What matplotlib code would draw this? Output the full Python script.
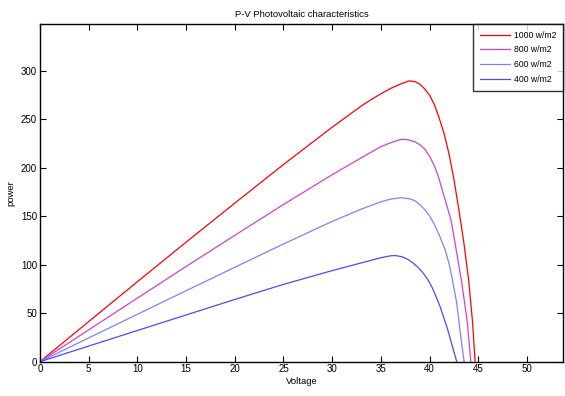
import matplotlib
matplotlib.use('Agg')
import matplotlib.pyplot as plt

plt.rcParams['font.family'] = ['Liberation Sans', 'DejaVu Sans']

# voltage / power
v_1000 = [0, 5, 10, 15, 20, 25, 30, 33, 34, 35, 36, 37, 37.9, 38.5, 39, 39.5, 40, 40.5, 41, 41.5, 42,
          42.5, 43, 43.5, 44, 44.4, 44.67]
p_1000 = [0, 41.3, 82.5, 123.3, 163.6, 203.5, 242, 264, 270.5, 276.5, 282, 286.5, 289.8, 289, 286.5,
          281.5, 275, 265, 251, 235, 214, 188, 157, 124, 85, 42, 0]

v_800 = [0, 5, 10, 15, 20, 25, 30, 33, 35, 36, 37, 37.5, 38, 38.5, 39, 39.5, 40, 40.5, 40.9, 41.6, 42.2,
         42.62, 43.31, 43.88, 44.23]
p_800 = [0, 32.8, 65.6, 98.2, 130.4, 162.2, 193, 210.5, 221.9, 226, 229.2, 229.5, 228.5, 226.8, 224,
         219.5, 212, 202, 191, 167, 146, 122, 81, 40, 0]

v_600 = [0, 5, 10, 15, 20, 25, 30, 33, 35, 36, 37.1, 38, 38.5, 39, 39.5, 40, 40.5, 41, 41.6, 42,
         42.28, 42.79, 43.2, 43.54]
p_600 = [0, 24.5, 48.9, 73.2, 97.4, 121.5, 144.8, 157.5, 165, 167.8, 169.3, 168, 166, 162, 157,
         150.5, 141.5, 130.5, 115.3, 101, 87.7, 60.3, 25.8, 0]

v_400 = [0, 5, 10, 15, 20, 25, 30, 33, 35, 36, 36.5, 37.15, 37.8, 38.34, 38.9, 39.36, 39.8, 40.22,
         40.65, 41.08, 41.4, 41.77, 42.1, 42.44, 42.79]
p_400 = [0, 16.1, 32.2, 48.2, 64.2, 79.8, 94, 102, 107.3, 109.3, 109.5, 108.4, 105.5, 101.5, 96.5,
         91.2, 85, 77.4, 67.5, 56.8, 47, 36.1, 24.5, 12.1, 0]

labels = ['1000 w/m2', '800 w/m2', '600 w/m2', '400 w/m2']
colors = ['#ff0000', '#cc44cc', '#8080ff', '#4a4aff']

fig = plt.figure(figsize=(5.65, 3.96), dpi=100)
ax = fig.add_axes([0.0706, 0.0866, 0.926, 0.8528])

ax.plot(v_1000, p_1000, color=colors[0], lw=0.9, label=labels[0])
ax.plot(v_800, p_800, color=colors[1], lw=0.9, label=labels[1])
ax.plot(v_600, p_600, color=colors[2], lw=0.9, label=labels[2])
ax.plot(v_400, p_400, color=colors[3], lw=0.9, label=labels[3])

ax.set_xlim(0, 53.7)
ax.set_ylim(0, 348.5)
ax.set_xticks(range(0, 51, 5))
ax.set_yticks(range(0, 301, 50))
ax.tick_params(direction='in', top=True, right=True, labelsize=7, length=4, width=0.8, pad=2)
for s in ax.spines.values():
    s.set_linewidth(1.0)

ax.set_title('P-V Photovoltaic characteristics', fontsize=6.8, pad=5)
ax.set_xlabel('Voltage', fontsize=6.8, labelpad=2)
ax.set_ylabel('power', fontsize=6.8, labelpad=4)

leg = ax.legend(loc='upper right', borderaxespad=0, fontsize=6.2, fancybox=False,
                handlelength=3.5, handletextpad=0.45, labelspacing=0.65, borderpad=0.8)
leg.get_frame().set_edgecolor('black')
leg.get_frame().set_linewidth(1.0)

fig.savefig('out.png', dpi=100)
